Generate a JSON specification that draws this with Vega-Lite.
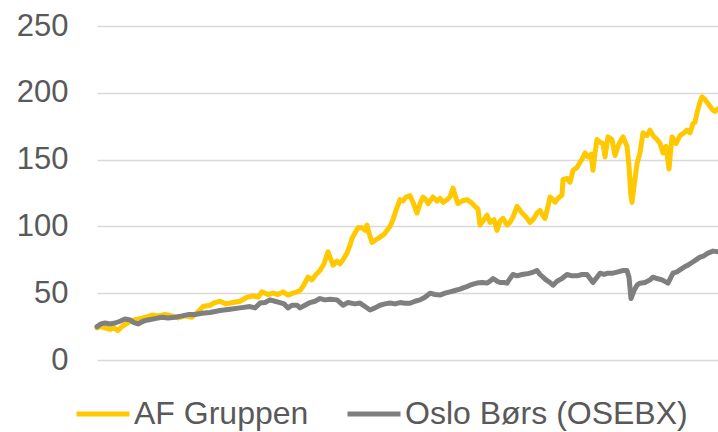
{
  "$schema": "https://vega.github.io/schema/vega-lite/v6.json",
  "width": 621,
  "height": 334,
  "autosize": {"type": "none"},
  "padding": {"left": 97, "top": 26, "right": 0, "bottom": 72},
  "background": "white",
  "config": {"view": {"stroke": null}, "font": "Liberation Sans"},
  "datasets": {
    "af": [
      [0,24],[4,25],[8,24],[13,23],[17,24],[21,22],[25,25],[31,28],[37,30],[43,31],[49,32],[55,33.7],[61,33],[68,34],[75,33],[81,31.5],[88,33],[95,32],[101,36],[106,40],[113,41],[118,43],[123,44],[129,42],[136,43],[143,44],[150,47],[156,48],[161,47],[165,51],[171,49],[176,50],[181,49],[186,51],[191,48.6],[196,50],[200,51],[203,52],[206,55],[211,62],[215,60],[219,64],[223,67],[227,72],[231,81],[234,75],[236,71],[240,74],[243,72],[246,75],[250,80],[253,86],[255,91],[258,95],[261,99],[265,99],[268,97],[270,101],[272,95],[275,88],[279,90],[283,92],[287,94],[291,98],[293,100],[296,105],[299,112],[303,120],[306,119],[309,122],[313,123],[316,118],[320,110],[323,117],[326,122],[329,120],[331,117],[334,120],[336,122],[340,119],[343,121],[346,118],[350,120],[353,122],[356,128.7],[359,121],[361,117],[365,119],[370,120],[374,118],[378,115],[381,113],[383,101],[386,104],[390,108.5],[393,103],[397,105],[400,97],[403,104],[406,106],[410,101],[413,103],[416,107],[420,115],[423,112],[425,110],[429,107],[433,103],[437,106],[440,110],[443,112],[446,108],[448,106],[451,115],[453,122],[456,120],[458,118],[461,121],[465,123.5],[466,135],[470,136],[473,133],[476,142],[480,144],[483,148],[485,150],[488,155],[491,152],[494,154],[496,142],[498,155],[500,165],[503,163],[506,162],[508,152],[511,167],[515,165],[518,153],[521,160],[523,163],[526,167],[530,160],[532,145],[534,122],[535,118],[537,130],[540,147],[543,155],[546,170],[550,168],[553,172],[556,168],[560,165],[563,162],[566,155],[569,160],[572,143],[575,167],[579,162],[583,168],[587,170],[590,172],[593,170],[596,177],[598,178],[600,185],[603,193],[605,197],[608,195],[610,193],[613,190],[616,187],[618,186],[621,188]
    ],
    "osebx": [
      [0,25],[4,27],[8,27.7],[13,27],[18,27.7],[23,29],[28,30.7],[33,30],[37,28],[41,27],[46,29],[51,30],[58,31],[65,32],[71,31.5],[78,32],[85,33],[91,34],[98,34],[105,35],[113,35.5],[123,37],[133,38],[143,39],[153,40],[158,39],[163,42.6],[168,43],[173,45],[178,44],[183,43],[187,42],[191,39],[195,41],[200,41],[203,39],[208,41],[213,43],[218,44],[223,46],[228,45],[233,45.5],[240,45],[246,41],[251,43],[258,42],[263,42.6],[268,40],[273,37.4],[278,39],[283,41],[288,42],[293,42.6],[298,42],[303,43],[308,42.5],[313,42.5],[318,44],[323,45],[328,47],[333,50],[338,49],[343,48.6],[348,50],[353,51],[358,52],[363,53],[366,54],[370,55],[373,56],[377,57],[380,57.6],[385,58],[390,57.6],[393,59],[396,61],[400,59],[403,58],[407,58],[410,57.5],[413,61],[416,64],[420,63],[425,64],[430,64.5],[433,65],[437,66],[440,67],[443,64],[446,62],[449,60],[453,58],[456,56],[460,59],[465,61],[470,64],[475,63],[480,63],[485,64],[490,64],[493,61],[496,58],[500,62],[503,65],[507,64],[511,65],[516,65],[521,66],[526,67],[530,67],[532,62],[534,46],[537,52],[540,56],[543,57.5],[548,58],[553,60],[556,62],[560,61],[565,60],[571,57.5],[574,62],[576,65],[580,66],[584,68],[588,70],[591,71],[595,73],[599,75],[603,77],[607,78],[611,80],[616,81.5],[621,81]
    ]
  },
  "layer": [
    {
      "data": {"name": "af"},
      "transform": [
        {"calculate": "datum[0]", "as": "obs"},
        {"calculate": "datum[1]", "as": "value"},
        {"calculate": "'AF Gruppen'", "as": "series"}
      ],
      "mark": {"type": "line", "strokeWidth": 5, "strokeJoin": "round", "strokeCap": "round"},
      "encoding": {
        "x": {"field": "obs", "type": "quantitative", "scale": {"domain": [0, 621], "nice": false, "zero": false}, "axis": null},
        "y": {"field": "value", "type": "quantitative", "scale": {"domain": [0, 250], "nice": false},
          "axis": {"values": [0, 50, 100, 150, 200, 250], "title": null, "grid": true, "gridColor": "#d9d9d9", "gridWidth": 1.5, "domain": false, "ticks": false, "labelFontSize": 31, "labelColor": "#595959", "labelPadding": 29, "labelFont": "Liberation Sans"}},
        "color": {"field": "series", "type": "nominal",
          "scale": {"domain": ["AF Gruppen", "Oslo Børs (OSEBX)"], "range": ["#FFC800", "#7F7F7F"]},
          "legend": {"orient": "none", "direction": "horizontal", "legendX": -23, "legendY": 359, "title": null, "symbolType": "stroke", "symbolSize": 2809, "symbolStrokeWidth": 5, "labelFontSize": 32, "labelColor": "#595959", "labelFont": "Liberation Sans", "labelOffset": 2, "columnPadding": 28, "padding": 0, "labelLimit": 400}}
      }
    },
    {
      "data": {"name": "osebx"},
      "transform": [
        {"calculate": "datum[0]", "as": "obs"},
        {"calculate": "datum[1]", "as": "value"},
        {"calculate": "'Oslo Børs (OSEBX)'", "as": "series"}
      ],
      "mark": {"type": "line", "strokeWidth": 5, "strokeJoin": "round", "strokeCap": "round"},
      "encoding": {
        "x": {"field": "obs", "type": "quantitative"},
        "y": {"field": "value", "type": "quantitative"},
        "color": {"field": "series", "type": "nominal"}
      }
    }
  ]
}
